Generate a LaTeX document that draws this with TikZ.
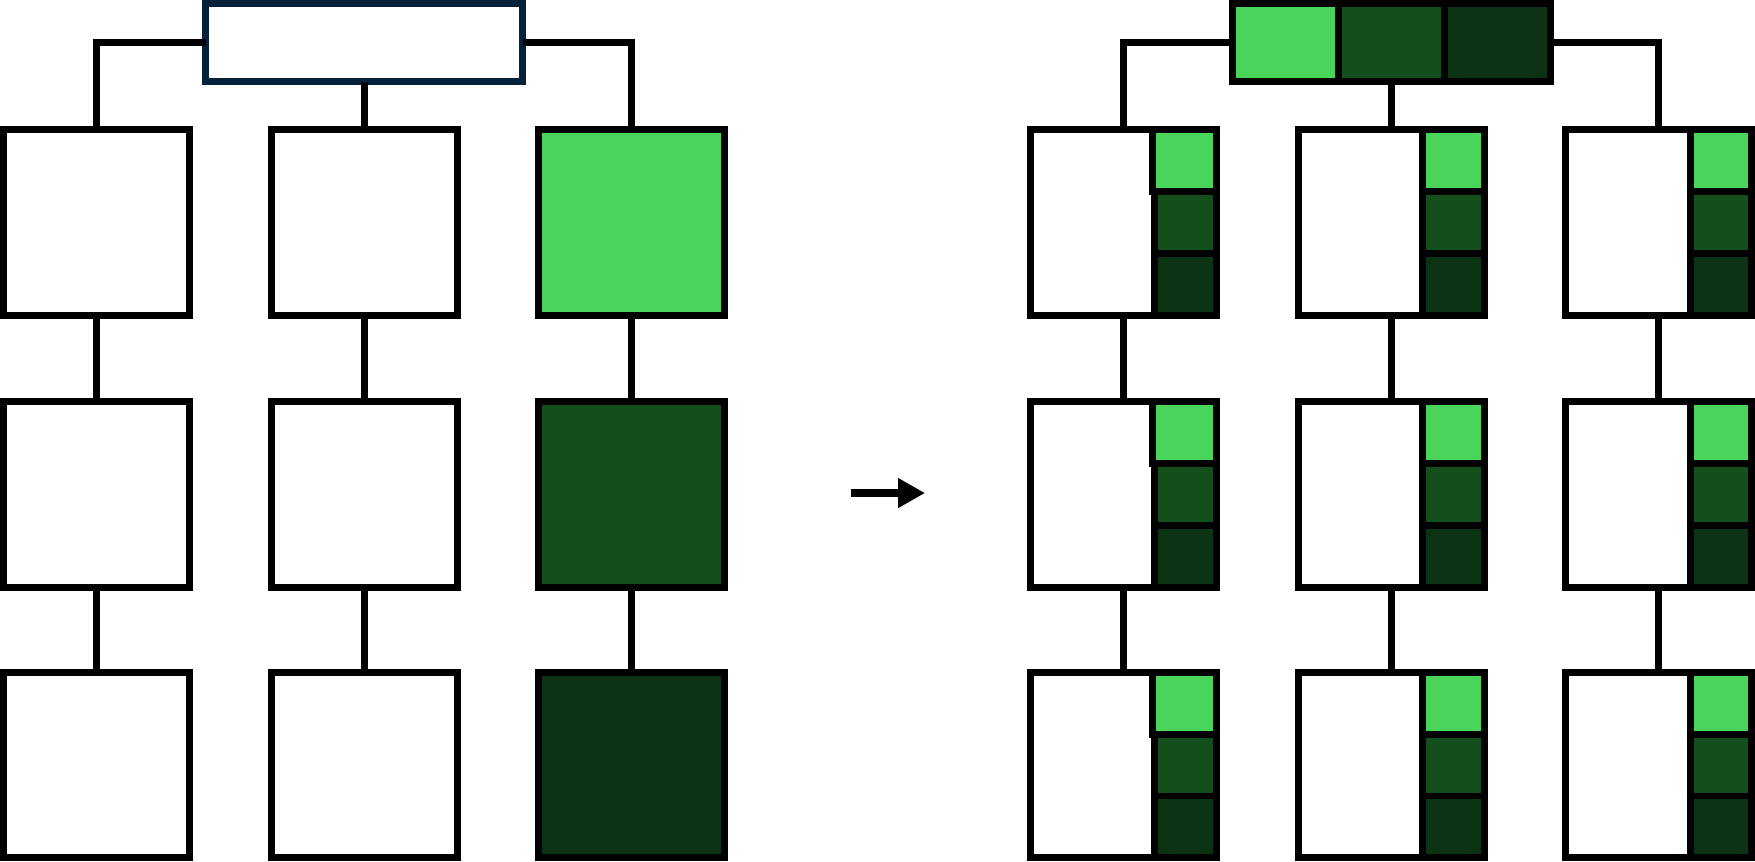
\documentclass[tikz,border=0pt]{standalone}
\usetikzlibrary{arrows.meta}
\definecolor{navy}{HTML}{05223A}
\definecolor{gA}{HTML}{48D55A}
\definecolor{gB}{HTML}{134F1C}
\definecolor{gC}{HTML}{0C3313}
\begin{document}
\begin{tikzpicture}[x=1pt,y=-1pt,
  box/.style={draw=black,line width=6.2pt,fill=white,inner sep=0pt,outer sep=0pt,minimum width=166pt,minimum height=166pt},
  cell/.style={draw=black,line width=6.2pt,inner sep=0pt,outer sep=0pt,minimum width=55pt,minimum height=55.33pt},
  link/.style={draw=black,line width=6pt},
  arrowline/.style={draw=black,line width=6.5pt,-{Triangle[length=24pt,width=25pt]}}]
\useasboundingbox (0,0) rectangle (1568,770);

% ---------- left tree ----------
\node[box,draw=navy,minimum width=283pt,minimum height=70pt] (lt) at (325.5,38) {};
\foreach \r/\y in {1/199,2/441.5,3/683.5}{
  \node[box] (l\r1) at (86,\y) {};
  \node[box] (l\r2) at (325.5,\y) {};
}
\node[box,fill=gA] (l13) at (564.5,199) {};
\node[box,fill=gB] (l23) at (564.5,441.5) {};
\node[box,fill=gC] (l33) at (564.5,683.5) {};

\draw[link] (lt.west) -| (l11.north);
\draw[link] (lt.south) -- (l12.north);
\draw[link] (lt.east) -| (l13.north);
\foreach \c in {1,2,3}{
  \draw[link] (l1\c.south) -- (l2\c.north);
  \draw[link] (l2\c.south) -- (l3\c.north);
}

% ---------- arrow ----------
\coordinate (a1) at (760,440.5);
\coordinate (a2) at (826.5,440.5);
\draw[arrowline] (a1) -- (a2);

% ---------- right tree ----------
\node[box,minimum width=284pt,minimum height=70pt] (rt) at (1243,38) {};
\node[cell,fill=gA,minimum width=94.67pt,minimum height=70pt] (rta) at (1148.33,38) {};
\node[cell,fill=gB,minimum width=94.67pt,minimum height=70pt] (rtb) at (1243,38) {};
\node[cell,fill=gC,minimum width=94.67pt,minimum height=70pt] (rtc) at (1337.67,38) {};

\foreach \c/\x in {1/1003.5,2/1243,3/1482}{
  \foreach \r/\y in {1/199,2/441.5,3/683.5}{
    \node[box] (r\r\c) at (\x,\y) {};
    \node[cell,fill=gB] (r\r\c b) at ({\x+55.5},\y) {};
    \node[cell,fill=gC] (r\r\c c) at ({\x+55.5},{\y+55.33}) {};
  }
}
% light cells (the first column's sit a little further left)
\foreach \r/\y in {1/199,2/441.5,3/683.5}{
  \node[cell,fill=gA,minimum width=57pt] (r\r1a) at ({1003.5+54.5},{\y-55.33}) {};
  \node[cell,fill=gA] (r\r2a) at ({1243+55.5},{\y-55.33}) {};
  \node[cell,fill=gA] (r\r3a) at ({1482+55.5},{\y-55.33}) {};
}

\draw[link] (rt.west) -| (r11.north);
\draw[link] (rt.south) -- (r12.north);
\draw[link] (rt.east) -| (r13.north);
\foreach \c in {1,2,3}{
  \draw[link] (r1\c.south) -- (r2\c.north);
  \draw[link] (r2\c.south) -- (r3\c.north);
}
\end{tikzpicture}
\end{document}
